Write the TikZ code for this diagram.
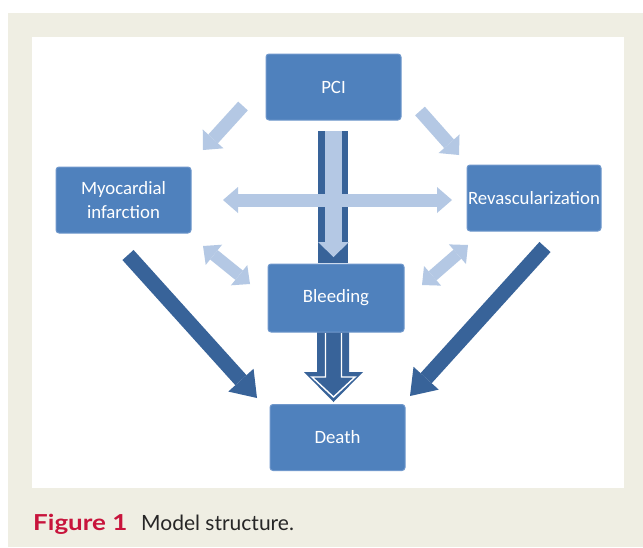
\documentclass[tikz,border=0pt]{standalone}
\usepackage{fontspec}
\setmainfont{Carlito}
\newfontfamily\capfont{Lato}
\usetikzlibrary{arrows.meta}
\definecolor{boxblue}{HTML}{4F81BD}
\definecolor{boxedge}{HTML}{7098CC}
\definecolor{lightarr}{HTML}{B4C8E4}
\definecolor{darkarr}{HTML}{386399}
\definecolor{bgbeige}{HTML}{EFEEE3}
\definecolor{capred}{HTML}{C8143C}
\tikzset{
  box/.style={draw=boxedge, line width=1pt, fill=boxblue, rounded corners=3pt,
    minimum width=135pt, minimum height=66pt, inner sep=0pt, text=white,
    font=\fontsize{18.8}{23.5}\selectfont, align=center},
  lightone/.style={draw=lightarr, line width=13pt,
    -{Triangle[width=28pt,length=15pt,line width'=0pt]}},
  lighttwo/.style={draw=lightarr, line width=12pt,
    {Triangle[width=26pt,length=14pt,line width'=0pt]}-{Triangle[width=26pt,length=14pt,line width'=0pt]}},
  lighthoriz/.style={draw=lightarr, line width=13pt,
    {Triangle[width=26pt,length=15pt,line width'=0pt]}-{Triangle[width=26pt,length=15pt,line width'=0pt]}},
  darkone/.style={draw=darkarr, line width=15pt,
    -{Triangle[width=34pt,length=24pt,line width'=0pt]}},
  captext/.style={anchor=base west, inner sep=0pt, font=\capfont\fontsize{21}{24}\selectfont}
}
\begin{document}
\begin{tikzpicture}[x=1pt,y=-1pt]
\useasboundingbox (0,0) rectangle (643,547);
\fill[bgbeige] (8,13) rectangle (643,547);
\fill[white] (32,37) rectangle (624,488);

% coordinates for floating connectors
\coordinate (pmA) at (243,106);  \coordinate (pmB) at (203,150);
\coordinate (prA) at (420,111);  \coordinate (prB) at (459,155);
\coordinate (hA) at (223,200);   \coordinate (hB) at (452,200);
\coordinate (bmA) at (203,246);  \coordinate (bmB) at (250,284);
\coordinate (brA) at (422,285);  \coordinate (brB) at (468,245);
\coordinate (mdA) at (128,255);  \coordinate (mdB) at (257,398);
\coordinate (rdA) at (545,247);  \coordinate (rdB) at (410,396);
\coordinate (pbA) at (333.5,131); \coordinate (pbB) at (333.5,257);

% light arrows from PCI
\draw[lightone] (pmA) -- (pmB);
\draw[lightone] (prA) -- (prB);

% PCI -> Bleeding compound arrow
\fill[darkarr] (318,131) rectangle (348,263);
\draw[lighthoriz] (hA) -- (hB);
\draw[draw=lightarr, line width=17pt,
  -{Triangle[width=31pt,length=15pt,line width'=0pt]}] (pbA) -- (pbB);

% double arrows with Bleeding
\draw[lighttwo] (bmA) -- (bmB);
\draw[lighttwo] (brA) -- (brB);

% dark arrows to Death
\draw[darkone] (mdA) -- (mdB);
\draw[darkone] (rdA) -- (rdB);

% Bleeding -> Death
\fill[darkarr] (317,331) -- (349,331) -- (349,372) -- (363,372) -- (333.5,402)
  -- (304,372) -- (317,372) -- cycle;
\draw[white, line width=1.4pt, line join=miter] (325.5,333) -- (325.5,377) -- (312,377)
  -- (333.5,397) -- (355,377) -- (341.5,377) -- (341.5,333);

% boxes
\node[box] (pci) at (333.5,87) {PCI};
\node[box] (mi) at (123.5,200) {Myocardial\\infarction};
\node[box, minimum width=134pt] (rev) at (534,198) {Revascularization};
\node[box, minimum width=136pt, minimum height=68pt] (bl) at (336,298) {Bleeding};
\node[box] (de) at (337.5,437.5) {Death};

% caption
\node[captext, text=capred, xscale=1.18, font=\capfont\bfseries\fontsize{22}{24}\selectfont] (figlab) at (33,530) {Figure 1};
\node[captext, text=black!85] (figtxt) at (141,530) {Model structure.};
\end{tikzpicture}
\end{document}
